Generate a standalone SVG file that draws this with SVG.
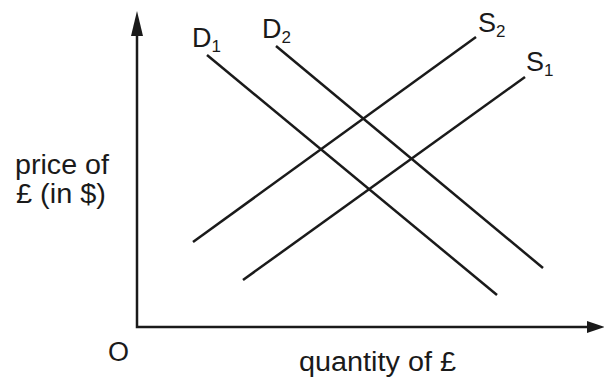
<svg xmlns="http://www.w3.org/2000/svg" width="604" height="378" viewBox="0 0 604 378">
<style>
.ln{stroke:#1a1a1a;stroke-width:2.5;fill:none}
.t{font-family:"Liberation Sans",Arial,sans-serif;font-size:27px;fill:#1a1a1a}
.s{font-size:17px}
</style>
<rect width="604" height="378" fill="#fff"/>
<g id="axes">
<path class="ln" d="M137,30 V327 H592"/>
<polygon points="137,11 131,36 143,36" fill="#1a1a1a"/>
<polygon points="605,327 587,321 587,333" fill="#1a1a1a"/>
</g>
<g id="connectors">
<line class="ln" x1="207" y1="55" x2="497" y2="295"/>
<line class="ln" x1="276" y1="46" x2="543" y2="268"/>
<line class="ln" x1="193" y1="242" x2="476" y2="37"/>
<line class="ln" x1="243" y1="280" x2="525" y2="77"/>
</g>
<g id="D1"><text class="t" x="192" y="47">D<tspan class="s" dy="5">1</tspan></text></g>
<g id="D2"><text class="t" x="262" y="38">D<tspan class="s" dy="5">2</tspan></text></g>
<g id="S2"><text class="t" x="478" y="32">S<tspan class="s" dy="5">2</tspan></text></g>
<g id="S1"><text class="t" x="526" y="71">S<tspan class="s" dy="5">1</tspan></text></g>
<g id="ylabel">
<text class="t" x="15" y="174" textLength="94" lengthAdjust="spacingAndGlyphs">price of</text>
<text class="t" x="16" y="203" textLength="90" lengthAdjust="spacingAndGlyphs">£ (in $)</text>
</g>
<g id="origin"><text class="t" x="108" y="361">O</text></g>
<g id="xlabel"><text class="t" x="299" y="371" textLength="157" lengthAdjust="spacingAndGlyphs">quantity of £</text></g>
</svg>
